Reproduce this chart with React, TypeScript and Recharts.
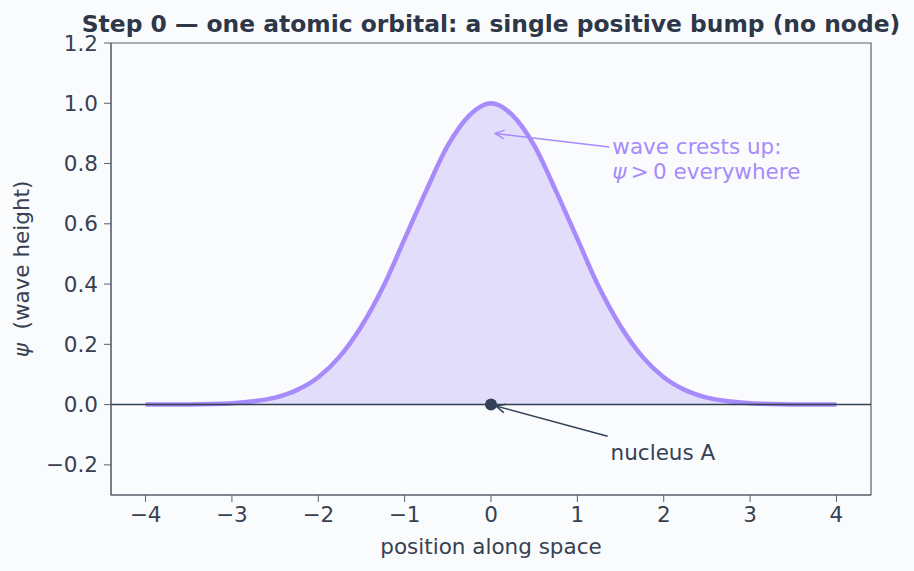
import React from 'react';
import {
  ComposedChart, Area, XAxis, YAxis, ReferenceLine, ReferenceDot, ReferenceArea,
} from 'recharts';

// position along space (x) and wave height psi
const positions = [
  -4, -3.75, -3.5, -3.25, -3, -2.75, -2.5, -2.25, -2, -1.75, -1.5, -1.25, -1, -0.75, -0.5, -0.25,
  0, 0.25, 0.5, 0.75, 1, 1.25, 1.5, 1.75, 2, 2.25, 2.5, 2.75, 3, 3.25, 3.5, 3.75, 4,
];
const psiValues = [
  0.0001, 0.0002, 0.0006, 0.0018, 0.0045, 0.011, 0.023, 0.048, 0.091, 0.16, 0.26, 0.39, 0.55, 0.71, 0.86, 0.96,
  1.0, 0.96, 0.86, 0.71, 0.55, 0.39, 0.26, 0.16, 0.091, 0.048, 0.023, 0.011, 0.0045, 0.0018, 0.0006, 0.0002, 0.0001,
];
const xTicks = [-4, -3, -2, -1, 0, 1, 2, 3, 4];
const yTicks = [-0.2, 0, 0.2, 0.4, 0.6, 0.8, 1.0, 1.2];
const xDomain = [-4.4, 4.4];
const yDomain = [-0.3, 1.2];

// annotations: [tail, head] in data coordinates
const crestArrow = [{ x: 1.37, y: 0.855 }, { x: 0.05, y: 0.9 }];
const nucleusArrow = [{ x: 1.35, y: -0.105 }, { x: 0.06, y: -0.005 }];
const nucleus = { x: 0, y: 0 };

const data = positions.map((x, i) => ({ x, psi: psiValues[i] }));

const FONT = '"DejaVu Sans", sans-serif';
const TEXT = '#374151';
const AXIS = '#5b5f6b';
const VIOLET = '#a78bfa';
const BG = '#fafbfd';
const FS = 21.5;

const fmt = (v: number) => (v < 0 ? '\u2212' : '') + Math.abs(v).toString();
const fmtY = (v: number) => (v < 0 ? '\u2212' : '') + Math.abs(v).toFixed(1);

function arrowShape(color: string, lines: React.ReactNode[], textDy: number[]) {
  return (p: any) => {
    const { x1, y1, x2, y2 } = p;
    const ang = Math.atan2(y2 - y1, x2 - x1);
    const L = 10;
    const a1 = ang + Math.PI - 0.45;
    const a2 = ang + Math.PI + 0.45;
    return (
      <g>
        <line x1={x1} y1={y1} x2={x2} y2={y2} stroke={color} strokeWidth={1.5} />
        <path
          d={`M${x2 + L * Math.cos(a1)},${y2 + L * Math.sin(a1)} L${x2},${y2} L${x2 + L * Math.cos(a2)},${y2 + L * Math.sin(a2)}`}
          fill="none" stroke={color} strokeWidth={1.5}
        />
        {lines.map((t, i) => (
          <text key={i} x={x1 + 3} y={y1 + textDy[i]} fill={color} fontSize={FS} fontFamily={FONT}>{t}</text>
        ))}
      </g>
    );
  };
}

export default function App() {
  return (
    <div style={{ position: 'absolute', left: 0, top: 0, width: 914, height: 571, background: BG }}>
      <div style={{
        position: 'absolute', left: 0, width: 982, top: 14, textAlign: 'center', lineHeight: '20px',
        fontFamily: FONT, fontWeight: 'bold', fontSize: 23.4, color: '#2d3748', whiteSpace: 'nowrap',
      }}>
        Step 0 — one atomic orbital: a single positive bump (no node)
      </div>
      <ComposedChart width={914} height={571} data={data} margin={{ top: 43, right: 43, bottom: 0, left: 0 }}>
        <XAxis
          dataKey="x" type="number" domain={xDomain} ticks={xTicks} tickFormatter={fmt}
          height={76} stroke={AXIS} tickSize={7} tickMargin={5}
          tick={{ fill: TEXT, fontSize: FS, fontFamily: FONT }}
          label={{ value: 'position along space', position: 'insideBottom', offset: 17, fill: TEXT, fontSize: FS, fontFamily: FONT }}
          allowDataOverflow
        />
        <YAxis
          type="number" domain={yDomain} ticks={yTicks} tickFormatter={fmtY}
          width={111} stroke={AXIS} tickSize={7} tickMargin={6}
          tick={{ fill: TEXT, fontSize: FS, fontFamily: FONT }}
          allowDataOverflow
          label={{
            position: 'insideLeft',
            content: (props: any) => {
              const vb = props.viewBox || { x: 0, y: 43, width: 111, height: 452 };
              const cx = 29;
              const cy = vb.y + vb.height / 2;
              return (
                <text x={cx} y={cy} transform={`rotate(-90 ${cx} ${cy})`} textAnchor="middle"
                  fill={TEXT} fontSize={FS} fontFamily={FONT} style={{ whiteSpace: 'pre' }}>
                  <tspan fontStyle="italic">ψ</tspan>{'\u00a0\u00a0(wave height)'}
                </text>
              );
            },
          }}
        />
        <ReferenceArea x1={xDomain[0]} x2={xDomain[1]} y1={yDomain[0]} y2={yDomain[1]}
          fill="none" stroke={AXIS} strokeWidth={1.2} ifOverflow="visible" />
        <Area type="monotone" dataKey="psi" baseValue={0} stroke={VIOLET} strokeWidth={4.5}
          fill={VIOLET} fillOpacity={0.27} isAnimationActive={false} dot={false} activeDot={false} />
        <ReferenceLine y={0} stroke="#334155" strokeWidth={1.5} />
        <ReferenceLine segment={crestArrow} ifOverflow="visible"
          shape={arrowShape(VIOLET, ['wave crests up:', <><tspan fontStyle="italic">ψ</tspan>{'\u2009>\u20090 everywhere'}</>], [7, 32])} />
        <ReferenceLine segment={nucleusArrow} ifOverflow="visible"
          shape={arrowShape('#334155', ['nucleus A'], [24])} />
        <ReferenceDot x={nucleus.x} y={nucleus.y} r={6} fill="#334155" stroke="none" ifOverflow="visible" />
      </ComposedChart>
    </div>
  );
}
